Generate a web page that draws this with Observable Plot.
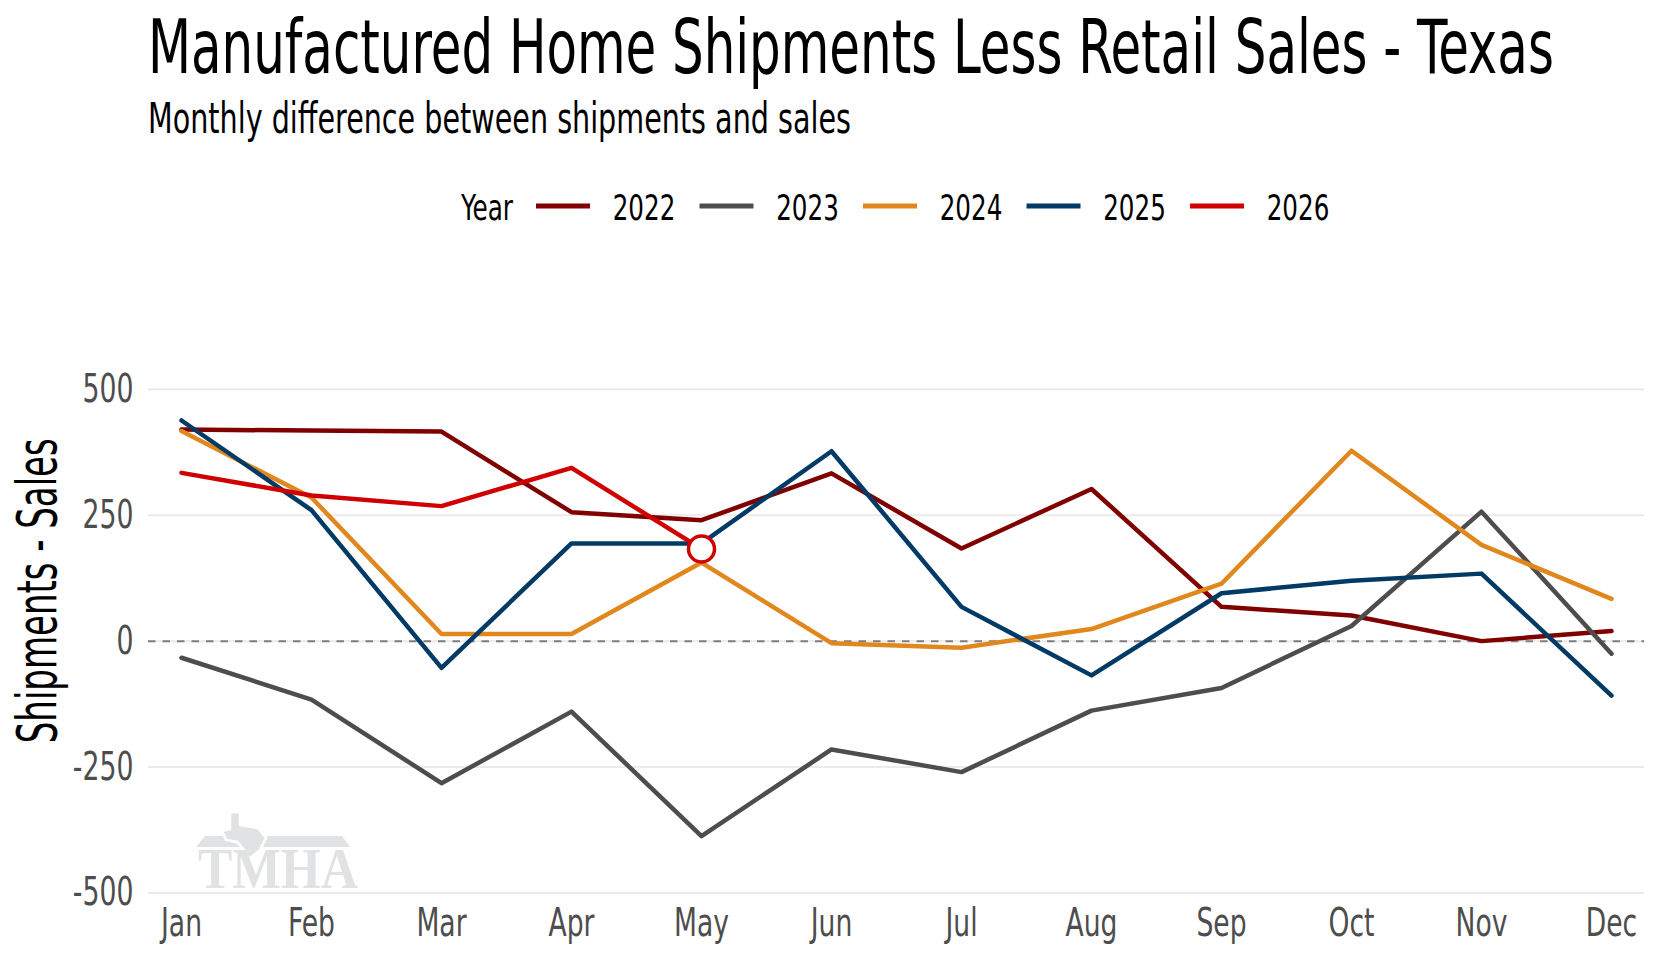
<!DOCTYPE html>
<html>
<head>
<meta charset="utf-8">
<script src="https://cdn.jsdelivr.net/npm/d3@7"></script>
<script src="https://cdn.jsdelivr.net/npm/@observablehq/plot@0.6"></script>
<style>
  html, body { margin: 0; padding: 0; background: #fff; }
  body { width: 1660px; height: 960px; overflow: hidden; position: relative; }
  svg { display: block; }
  #wm { position: absolute; left: 0; top: 0; pointer-events: none; }
</style>
</head>
<body>
<svg id="hdr" width="1660" height="240"></svg>
<div id="chart"></div>
<svg id="wm" width="1660" height="960"></svg>
<script>
const FONT = '"Liberation Sans Narrow", "Arial Narrow", "DejaVu Sans Condensed", sans-serif';

const titleText = "Manufactured Home Shipments Less Retail Sales - Texas";
const subtitleText = "Monthly difference between shipments and sales";
const yLabel = "Shipments - Sales";
const legendTitle = "Year";

const months = ["Jan","Feb","Mar","Apr","May","Jun","Jul","Aug","Sep","Oct","Nov","Dec"];
const years = ["2022","2023","2024","2025","2026"];
const colors = ["#800000","#4d4d4d","#e0881e","#003a65","#d00000"];
const v2022 = [420, 418, 416, 256, 240, 333, 184, 302, 68, 51, 0, 20];
const v2023 = [-33, -116, -282, -140, -387, -215, -260, -138, -93, 30, 257, -25];
const v2024 = [417, 285, 14, 14, 156, -4, -13, 24, 114, 378, 191, 84];
const v2025 = [438, 260, -53, 194, 194, 377, 68, -68, 95, 120, 134, -108];
const v2026 = [334, 289, 268, 344, 183];
const yTicks = [-500, -250, 0, 250, 500];

const series = [v2022, v2023, v2024, v2025, v2026];
const data = years.flatMap((yr, k) => series[k].map((v, i) => ({year: yr, month: months[i], value: v})));
const lastYear = years[years.length - 1];
const lastRow = data.filter(d => d.year === lastYear).slice(-1);

// ---------- header (title, subtitle, legend) ----------
const hdr = d3.select("#hdr").attr("font-family", FONT);
// place a text with its left edge at x, baseline at y, squeezed to a given width
function fitText(parent, str, x, y, size, width, fill = "#000") {
  const t = parent.append("text").attr("x", 0).attr("y", 0).attr("font-size", size).attr("fill", fill).text(str);
  const len = t.node().getComputedTextLength();
  const s = len > 0 ? width / len : 1;
  t.attr("transform", `translate(${x},${y}) scale(${s},1)`);
  return t;
}
fitText(hdr, titleText, 148, 73, 75, 1406);
fitText(hdr, subtitleText, 148, 133, 42, 703);
fitText(hdr, legendTitle, 461, 220, 36, 52);
const legStep = 163.5;
years.forEach((yr, i) => {
  const x0 = 536 + i * legStep;
  hdr.append("line").attr("x1", x0).attr("x2", x0 + 54).attr("y1", 206).attr("y2", 206)
    .attr("stroke", colors[i]).attr("stroke-width", 5);
  fitText(hdr, yr, x0 + 76.7, 220, 36, 62.6);
});

// ---------- chart ----------
const plot = Plot.plot({
  width: 1660,
  height: 720,
  marginLeft: 148,
  marginRight: 16,
  marginTop: 48,
  marginBottom: 67.5,
  style: {fontFamily: FONT, background: "transparent", fontSize: "39px"},
  x: {type: "point", domain: months, padding: 0.228, label: null},
  y: {domain: [-500, 700], label: null},
  color: {domain: years, range: colors},
  marks: [
    Plot.gridY(yTicks, {stroke: "#ebebeb", strokeOpacity: 1, strokeWidth: 2}),
    Plot.ruleY([0], {stroke: "#7f7f7f", strokeWidth: 2, strokeDasharray: "7.5,7"}),
    Plot.axisX({tickSize: 0, tickPadding: 15, fontSize: 39, color: "#4d4d4d", label: null}),
    Plot.axisY(yTicks, {tickSize: 0, tickPadding: 15, fontSize: 39, color: "#4d4d4d", label: null, tickFormat: d => String(d)}),
    Plot.line(data, {x: "month", y: "value", z: "year", stroke: "year", strokeWidth: 4.5, strokeLinejoin: "round"}),
    Plot.dot(lastRow, {x: "month", y: "value", r: 13, fill: "white", stroke: colors[colors.length - 1], strokeWidth: 3.5}),
    Plot.text([yLabel], {frameAnchor: "left", rotate: -90, dx: -93, lineAnchor: "bottom", textAnchor: "middle", fontSize: 56, fill: "#000"})
  ]
});
document.getElementById("chart").appendChild(plot);

// condense text horizontally to mimic the narrow reference typeface
function squeeze(texts, factor) {
  texts.forEach(el => {
    const t = el.getAttribute("transform") || "";
    el.setAttribute("transform", t + ` scale(${factor},1)`);
  });
}
function condense(selector, sampleText, target) {
  const texts = Array.from(plot.querySelectorAll(selector));
  if (!texts.length) return;
  const sample = texts.find(t => t.textContent === sampleText) || texts[0];
  const len = sample.getComputedTextLength();
  if (len > 0) squeeze(texts, target / len);
}
condense('g[aria-label="x-axis tick label"] text', "Jan", 41);
condense('g[aria-label="y-axis tick label"] text', "500", 51);
condense('g[aria-label="text"] text', yLabel, 305);

// ---------- watermark logo ----------
const wm = d3.select("#wm");
const wmColor = "#e1e2e4";
wm.append("polygon").attr("points", "205,836 342,836 350,847 196,847").attr("fill", wmColor);
wm.append("polygon")
  .attr("points", "230,812 240,812 240,825 258,828 266,838 260,850 249,859 245,851 237,842 226,840 222,831 230,829")
  .attr("fill", wmColor).attr("stroke", "#fff").attr("stroke-width", 2.5);
const wt = wm.append("text").attr("font-family", '"Liberation Serif", "DejaVu Serif", serif')
  .attr("font-weight", "bold").attr("font-size", 56).attr("fill", wmColor).text("TMHA");
const wl = wt.node().getComputedTextLength();
wt.attr("transform", `translate(198,888) scale(${wl > 0 ? 160 / wl : 1},1)`);
</script>
</body>
</html>
